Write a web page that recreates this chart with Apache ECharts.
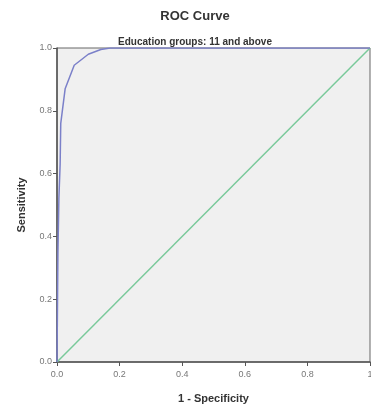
<!DOCTYPE html>
<html>
<head>
<meta charset="utf-8">
<script src="https://cdn.jsdelivr.net/npm/echarts@6/dist/echarts.min.js"></script>
<style>
  html, body { margin: 0; padding: 0; background: #fff; }
  #chart { width: 371px; height: 412px; }
</style>
</head>
<body>
<div id="chart"></div>
<script>
// ROC curve points: [1 - specificity, sensitivity]
const rocPoints = [
  [0, 0], [0.003, 0.35], [0.006, 0.52], [0.01, 0.63], [0.012, 0.76],
  [0.026, 0.87], [0.055, 0.945], [0.1, 0.98], [0.14, 0.995], [0.17, 1], [1, 1]
]
const refLine = [[0, 0], [1, 1]]
const xTickLabels = { 0: '0.0', 0.2: '0.2', 0.4: '0.4', 0.6: '0.6', 0.8: '0.8', 1: '1' }
const yTickLabels = { 0: '0.0', 0.2: '0.2', 0.4: '0.4', 0.6: '0.6', 0.8: '0.8', 1: '1.0' }

const chart = echarts.init(document.getElementById('chart'))
const font = 'Arial, "Liberation Sans", sans-serif'

chart.setOption({
  backgroundColor: '#fff',
  animation: false,
  title: [
    { text: 'ROC Curve', left: 190, top: 5, textAlign: 'center',
      textStyle: { fontSize: 13, fontWeight: 'bold', color: '#333', fontFamily: font } },
    { text: 'Education groups: 11 and above', left: 190, top: 32, textAlign: 'center',
      textStyle: { fontSize: 10, fontWeight: 'bold', color: '#333', fontFamily: font } }
  ],
  grid: {
    left: 57, right: 1, top: 48, bottom: 50,
    outerBoundsMode: 'none', containLabel: false,
    show: true, backgroundColor: '#f0f0f0', borderColor: '#666', borderWidth: 1
  },
  xAxis: {
    type: 'value', min: 0, max: 1, interval: 0.2,
    name: '1 - Specificity', nameLocation: 'middle', nameGap: 31,
    nameTextStyle: { fontSize: 11, fontWeight: 'bold', color: '#333', fontFamily: font },
    axisLine: { show: true, lineStyle: { color: '#555', width: 1.5 } },
    axisTick: { show: true, length: 4, lineStyle: { color: '#555' } },
    axisLabel: { fontSize: 9, color: '#777', margin: 8, fontFamily: font,
      formatter: v => xTickLabels[Math.round(v * 10) / 10] },
    splitLine: { show: false }
  },
  yAxis: {
    type: 'value', min: 0, max: 1, interval: 0.2,
    name: 'Sensitivity', nameLocation: 'middle', nameGap: 30,
    nameTextStyle: { fontSize: 11, fontWeight: 'bold', color: '#333', fontFamily: font },
    axisLine: { show: true, lineStyle: { color: '#555', width: 1.5 } },
    axisTick: { show: true, length: 4, lineStyle: { color: '#555' } },
    axisLabel: { fontSize: 9, color: '#777', margin: 5, fontFamily: font,
      formatter: v => yTickLabels[Math.round(v * 10) / 10] },
    splitLine: { show: false }
  },
  series: [
    {
      name: 'Reference', type: 'line', data: refLine, symbol: 'none',
      lineStyle: { color: '#79c99a', width: 1.5 }, z: 2
    },
    {
      name: 'ROC', type: 'line', data: rocPoints, symbol: 'none',
      lineStyle: { color: '#7b80c9', width: 1.5 }, z: 3
    }
  ]
})
</script>
</body>
</html>
